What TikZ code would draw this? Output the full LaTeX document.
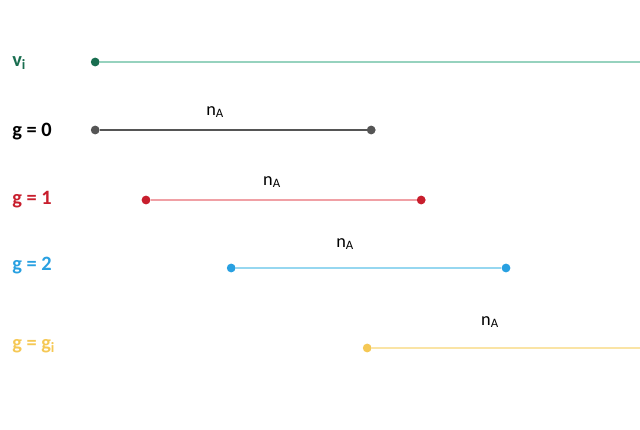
\documentclass[tikz,border=0pt]{standalone}
\usepackage{fontspec}
\setmainfont{Carlito}
\usepackage{xcolor}
\definecolor{vgreen}{RGB}{25,110,80}
\definecolor{vgreenlight}{RGB}{150,210,190}
\definecolor{gzero}{RGB}{85,85,85}
\definecolor{gone}{RGB}{200,30,45}
\definecolor{gonelight}{RGB}{240,160,165}
\definecolor{gtwo}{RGB}{40,160,225}
\definecolor{gtwolight}{RGB}{150,215,240}
\definecolor{gi}{RGB}{245,200,85}
\definecolor{gilight}{RGB}{250,228,165}
\usetikzlibrary{positioning,calc}

\begin{document}
\begin{tikzpicture}[
    dot/.style={circle, fill=#1, inner sep=0pt, minimum size=0.22cm},
    rowlabel/.style={font=\fontsize{14.5}{16}\selectfont\bfseries, text=#1, anchor=west, inner sep=0pt},
    nlabel/.style={font=\fontsize{13}{15}\selectfont}
]
\useasboundingbox (0,0) rectangle (16,-10.75);

% Labels
\node[rowlabel=vgreen] (lv) at (0.3,-1.58) {v\textsubscript{i}};
\node[rowlabel=black] (l0) at (0.3,-3.28) {g = 0};
\node[rowlabel=gone] (l1) at (0.3,-5.0) {g = 1};
\node[rowlabel=gtwo] (l2) at (0.3,-6.65) {g = 2};
\node[rowlabel=gi] (li) at (0.3,-8.65) {g = g\textsubscript{i}};

% Dots
\node[dot=vgreen] (v0) at (2.38,-1.55) {};
\coordinate (v1) at (16,-1.55);
\node[dot=gzero] (a0) at (2.38,-3.25) {};
\node[dot=gzero] (a1) at (9.28,-3.25) {};
\node[dot=gone] (b0) at (3.65,-5.0) {};
\node[dot=gone] (b1) at (10.53,-5.0) {};
\node[dot=gtwo] (c0) at (5.78,-6.7) {};
\node[dot=gtwo] (c1) at (12.65,-6.7) {};
\node[dot=gi] (d0) at (9.18,-8.7) {};
\coordinate (d1) at (16,-8.7);

% Segments
\draw[vgreenlight, thick] (v0) -- (v1);
\draw[gzero, thick] (a0) -- (a1);
\draw[gonelight, thick] (b0) -- (b1);
\draw[gtwolight, thick] (c0) -- (c1);
\draw[gilight, thick] (d0) -- (d1);

% n_A labels
\node[nlabel] (n0) at (5.38,-2.8) {n\textsubscript{A}};
\node[nlabel] (n1) at (6.8,-4.55) {n\textsubscript{A}};
\node[nlabel] (n2) at (8.63,-6.1) {n\textsubscript{A}};
\node[nlabel] (n3) at (12.25,-8.05) {n\textsubscript{A}};

\end{tikzpicture}
\end{document}
